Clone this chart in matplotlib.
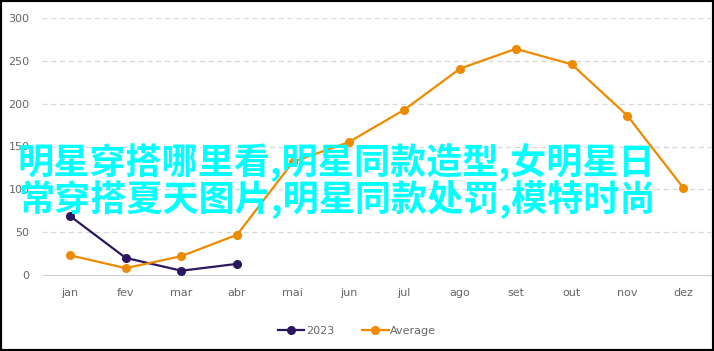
import matplotlib
matplotlib.use("Agg")
import matplotlib.pyplot as plt
from matplotlib.patches import Rectangle

# data
months = ["jan", "fev", "mar", "abr", "mai", "jun", "jul", "ago", "set", "out", "nov", "dez"]
series_2023 = [69, 20, 5, 13]
series_avg = [23, 8, 22, 47, 132, 155, 193, 241, 264, 246, 186, 102]
y_ticks = [0, 50, 100, 150, 200, 250, 300]
overlay_lines = ["明星穿搭哪里看,明星同款造型,女明星日", "常穿搭夏天图片,明星同款处罚,模特时尚"]

c_2023 = "#2b1660"
c_avg = "#ee8a00"
c_text = "#666666"

W, H = 714, 351
fig = plt.figure(figsize=(W / 100, H / 100), dpi=100)
ax = fig.add_axes([42 / W, 1 - 275 / H, (711 - 42) / W, (275 - 18) / H])

x_all = list(range(len(months)))
ax.plot(x_all[:len(series_2023)], series_2023, color=c_2023, lw=1.6, marker="o", ms=5.5, label="2023", zorder=3)
ax.plot(x_all, series_avg, color=c_avg, lw=1.6, marker="o", ms=5.5, label="Average", zorder=3)

ax.set_xlim(-0.5, len(months) - 0.5)
ax.set_ylim(0, 300)
ax.set_xticks(x_all)
ax.set_xticklabels(months)
ax.set_yticks(y_ticks)
for s in ["top", "right", "left"]:
    ax.spines[s].set_visible(False)
ax.spines["bottom"].set_color("#d0d0d0")
ax.tick_params(length=0, labelsize=8, labelcolor=c_text)
ax.tick_params(axis="x", pad=9)
ax.tick_params(axis="y", pad=9)
for t in y_ticks[1:]:
    ax.axhline(t, color="#d6d6d6", lw=0.9, ls=(0, (4, 3)), zorder=1)

handles, labels = ax.get_legend_handles_labels()
fig.legend(handles, labels, loc="center", bbox_to_anchor=(0.5, 1 - 331 / H),
           ncol=2, frameon=False, fontsize=8, labelcolor=c_text,
           handlelength=2.4, handletextpad=0.15, columnspacing=2.5)

# overlay text
fig.text(18 / W, 1 - 163 / H, overlay_lines[0], color="#00ffff", fontsize=26, fontweight="bold",
         family=["Noto Sans CJK SC", "DejaVu Sans"], va="center", ha="left", zorder=10)
fig.text(18 / W, 1 - 199 / H, overlay_lines[1], color="#00ffff", fontsize=26, fontweight="bold",
         family=["Noto Sans CJK SC", "DejaVu Sans"], va="center", ha="left", zorder=10)

# frame
fig.patches.append(Rectangle((0, 0), 1, 1, transform=fig.transFigure, fill=False,
                             edgecolor="black", lw=3, zorder=20))

fig.savefig("out.png", dpi=100)
